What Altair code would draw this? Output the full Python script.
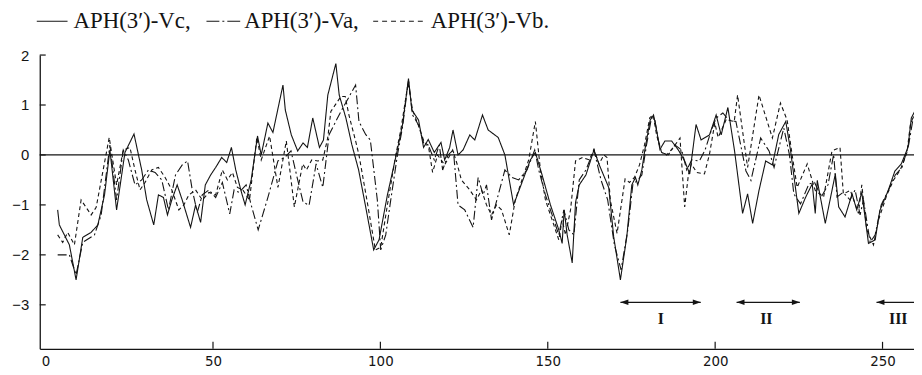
import altair as alt
import pandas as pd

# Hydropathy profiles (residue position, value)
vc = [(3.6,-1.1),(4.1,-1.4),(7.1,-1.8),(9.1,-2.5),(11.1,-1.65),(13.6,-1.55),(15.6,-1.4),(17.6,-0.8),
      (19.2,0.1),(21.2,-1.1),(23.7,0.05),(26.4,0.42),(28.7,-0.3),(30.2,-0.9),(32.3,-1.4),(33.7,-0.8),
      (35.2,-0.85),(36.4,-1.2),(37.7,-0.9),(39.3,-0.6),(40.8,-0.9),(43.3,-1.45),(44.8,-1.0),(46.3,-1.35),
      (47.7,-0.6),(49.3,-0.4),(50.8,-0.25),(52.6,-0.05),(54.1,-0.15),(55.5,0.15),(56.8,-0.3),(58.3,-0.7),
      (59.6,-1.0),(61.4,-0.5),(63.3,0.38),(64.4,0.0),(66.4,0.64),(67.9,0.45),(70.9,1.4),(71.6,0.9),
      (73.4,0.4),(75.3,0.08),(76.9,0.24),(78.2,0.15),(79.8,0.74),(81.8,0.15),(83.0,0.3),(84.3,1.2),
      (86.7,1.83),(87.7,1.2),(89.7,0.74),(91.5,0.2),(93.5,-0.3),(95.5,-1.0),(98.0,-1.9),(99.6,-1.7),
      (102.1,-0.8),(105.0,0.08),(106.6,0.6),(108.4,1.53),(109.4,0.9),(111.4,0.7),(112.9,0.15),(114.3,0.31),
      (116.1,0.05),(118.1,0.25),(119.2,-0.1),(120.7,0.15),(121.7,0.5),(123.2,0.0),(124.7,0.1),(126.7,0.4),
      (128.2,0.3),(130.5,0.8),(132.2,0.5),(135.2,0.35),(137.2,0.0),(139.8,-1.0),(142.3,-0.55),(144.8,-0.1),
      (146.3,0.05),(148.3,-0.4),(150.8,-1.0),(153.3,-1.5),(154.3,-1.77),(154.9,-1.1),(155.8,-1.6),(157.3,-2.16),
      (158.3,-0.95),(159.4,-0.6),(161.4,-0.4),(163.8,0.1),(165.4,-0.2),(168.2,-0.65),(169.7,-1.64),(171.7,-2.5),
      (173.6,-1.64),(175.1,-0.6),(176.2,-0.45),(176.9,-0.6),(178.1,-0.3),(179.0,0.1),(180.6,0.7),(181.6,0.8),
      (182.5,0.5),(183.5,0.11),(185.0,0.28),(187.0,0.28),(189.0,0.1),(190.9,-0.12),(192.4,-0.38),(194.3,0.61),
      (195.8,0.3),(198.3,0.4),(200.3,0.8),(201.8,0.4),(203.8,0.95),(205.8,0.08),(208.2,-1.17),(209.7,-0.78),
      (211.2,-1.37),(213.1,-0.71),(215.1,-0.12),(217.1,-0.2),(219.0,0.41),(221.1,0.67),(222.5,0.1),(225.0,-1.17),
      (227.0,-0.85),(229.0,-0.58),(229.9,-1.17),(230.5,-0.51),(232.9,-1.37),(235.9,-0.38),(236.9,-1.04),
      (238.8,-1.24),(240.9,-0.78),(242.3,-1.1),(243.8,-0.75),(245.8,-1.77),(247.8,-1.7),(249.2,-1.11),
      (251.7,-0.71),(253.7,-0.32),(255.6,-0.18),(257.6,0.15),(258.6,0.74),(259.6,0.87)]

va = [(3.6,-2.0),(7.1,-2.0),(9.1,-2.4),(11.1,-1.75),(14.6,-1.6),(16.6,-1.2),(19.2,0.2),(21.2,-0.9),
      (23.2,0.1),(24.7,-0.1),(26.7,-0.6),(28.7,-0.5),(30.7,-0.3),(32.7,-0.35),(34.7,-0.5),(36.7,-1.1),
      (38.8,-0.4),(40.8,-0.2),(42.4,-0.12),(43.8,-0.7),(45.3,-1.15),(46.8,-0.8),(48.8,-0.7),(50.8,-0.85),
      (52.8,-0.55),(55.0,-1.18),(56.3,-0.7),(57.8,-0.75),(59.9,-0.6),(61.4,-1.0),(63.5,-1.5),(66.4,-0.85),
      (69.4,-0.12),(71.4,-0.05),(73.3,0.08),(75.3,-0.5),(76.9,-0.94),(78.7,-1.01),(80.8,-0.18),(82.8,-0.65),
      (84.7,0.41),(88.2,0.87),(92.6,1.4),(93.6,0.67),(95.6,0.41),(97.0,0.3),(99.1,-0.91),(100.1,-1.9),
      (101.6,-1.6),(103.1,-0.9),(105.1,0.0),(106.6,0.55),(108.4,1.5),(109.6,0.8),(111.4,0.6),(113.1,0.2),
      (114.3,0.2),(116.1,-0.1),(117.6,0.2),(118.6,-0.3),(120.2,0.0),(121.8,0.1),(123.2,-1.0),(125.2,-1.1),
      (127.7,-1.45),(129.2,-0.45),(130.7,-0.8),(131.7,-0.6),(133.2,-1.3),(135.2,-0.8),(137.2,-0.3),(139.3,-0.45),
      (141.3,-0.5),(143.8,-0.3),(146.1,0.1),(147.3,-0.3),(149.3,-0.8),(151.3,-1.2),(153.3,-1.6),(154.8,-1.1),
      (156.3,-1.5),(157.8,-1.6),(159.4,-0.5),(161.4,-0.3),(163.8,0.1),(165.9,-0.5),(167.9,-0.9),(169.9,-1.8),
      (171.9,-2.3),(173.9,-1.5),(175.4,-0.6),(176.9,-0.5),(178.1,-0.4),(179.5,0.2),(181.0,0.75),(182.0,0.7),
      (183.0,0.3),(184.0,0.05),(186.0,0.0),(188.0,0.2),(190.0,0.1),(191.5,-0.3),(193.0,-0.1),(195.3,-0.12),
      (197.0,0.1),(198.8,0.48),(200.3,0.74),(202.3,0.84),(204.1,0.7),(206.2,0.67),(209.2,-0.32),(210.7,-0.51),
      (213.6,0.34),(216.1,0.08),(217.6,-0.25),(220.5,0.54),(222.2,0.0),(223.5,-0.78),(225.5,-0.98),(228.0,-0.58),
      (229.7,-0.55),(231.7,-0.84),(233.7,-0.6),(235.4,0.01),(236.4,-0.84),(238.2,-0.75),(240.3,-0.9),
      (241.8,-0.7),(243.3,-1.2),(244.3,-0.9),(246.3,-1.75),(247.8,-1.6),(249.6,-1.0),(251.8,-0.7),
      (253.8,-0.4),(255.8,-0.25),(257.8,0.2),(259.3,0.8)]

vb = [(3.6,-1.6),(5.1,-1.75),(6.6,-1.55),(8.6,-1.8),(10.6,-0.9),(13.6,-1.2),(15.1,-1.05),(19.0,0.35),
      (21.2,-0.6),(23.2,0.1),(25.2,0.15),(26.7,-0.3),(28.2,-0.7),(29.7,-0.55),(31.7,-0.3),(33.7,-0.25),
      (35.7,-0.45),(37.7,-0.7),(39.8,-1.1),(41.3,-1.0),(42.8,-0.8),(44.8,-0.7),(46.8,-0.9),(48.8,-0.75),
      (50.8,-0.8),(52.8,-0.3),(54.3,-0.5),(55.8,-0.35),(57.3,-0.65),(58.9,-0.7),(60.9,-0.9),(63.1,0.35),
      (64.4,-0.1),(66.9,0.38),(69.4,-0.65),(71.9,0.28),(74.3,-1.04),(76.8,-0.18),(77.9,-0.3),(79.5,-0.1),
      (81.3,-0.12),(82.8,-0.1),(84.3,0.35),(85.2,0.87),(88.2,1.17),(89.5,1.17),(90.6,0.8),(92.6,0.28),
      (93.6,0.0),(96.0,-0.91),(98.5,-1.9),(100.1,-1.85),(102.1,-1.0),(104.6,0.0),(106.1,0.5),(108.3,1.45),
      (109.6,0.9),(111.6,0.55),(113.1,0.25),(114.3,0.2),(115.6,-0.35),(117.1,0.0),(119.2,-0.2),(121.6,0.1),
      (123.0,-0.2),(124.2,-0.5),(126.7,-0.7),(128.7,-0.9),(130.2,-0.7),(131.7,-1.0),(133.2,-1.2),(134.7,-1.0),
      (136.2,-1.1),(138.5,-1.6),(140.3,-0.9),(142.3,-0.5),(144.3,-0.1),(146.3,0.67),(147.8,-0.3),(149.3,-0.9),
      (151.3,-1.3),(153.3,-1.7),(154.3,-1.3),(155.3,-1.6),(156.8,-1.1),(158.3,-0.12),(160.4,-0.05),(162.4,-0.1),
      (163.8,0.11),(165.3,-0.18),(166.8,0.0),(167.7,-0.05),(168.7,-0.91),(170.7,-1.57),(173.1,-0.48),
      (174.4,-0.55),(175.9,-0.45),(177.4,-0.2),(178.9,0.2),(180.5,0.75),(181.5,0.8),(182.5,0.4),(184.0,0.05),
      (185.5,0.0),(187.5,0.15),(189.5,0.34),(190.9,-1.04),(192.0,-0.4),(192.9,-0.18),(194.5,-0.35),
      (196.8,-0.38),(198.3,0.01),(199.9,0.64),(200.9,0.35),(203.3,0.71),(205.7,0.67),(206.7,1.2),(209.7,-0.25),
      (213.1,1.2),(217.1,0.34),(219.5,1.04),(221.5,0.7),(223.0,0.0),(224.5,-0.65),(227.5,-0.18),(229.9,-0.71),
      (232.4,-0.84),(234.9,0.08),(237.3,0.15),(238.3,-0.78),(240.4,-0.71),(242.8,-1.17),(243.8,-0.6),
      (245.3,-1.5),(247.3,-1.8),(248.8,-1.3),(251.3,-0.8),(253.3,-0.5),(255.3,-0.3),(257.3,0.05),(258.3,0.6),
      (259.1,0.75)]

x_ticks = [0, 50, 100, 150, 200, 250]
y_ticks = [2, 1, 0, -1, -2, -3]
region_names = ["I", "II", "III"]
region_start = [171.7, 206.4, 248.2]
region_end = [195.7, 225.3, 259.4]
region_mid = [183.8, 215.3, 254.7]
region_right_head = [True, True, False]
arrow_level = -2.95
label_level = -3.28
legend_labels = ["APH(3\u2032)-Vc,", "APH(3\u2032)-Va,", "APH(3\u2032)-Vb."]

W, H = 881, 296
xs = alt.Scale(domain=[-1.75, 259.4], nice=False, zero=False)
ys = alt.Scale(domain=[-3.88, 2], nice=False, zero=False)
INK = "#141414"
DASH_C, DASH_A, DASH_B = [1, 0], [9, 3, 2, 3], [4, 3]

x_axis = alt.Axis(values=x_ticks, ticks=False, grid=False, domainColor=INK, domainWidth=1.3,
                  labelFont="Liberation Sans Narrow, DejaVu Sans Condensed, Liberation Sans",
                  labelFontSize=15, labelColor=INK, labelPadding=5, labelFlush=False, title=None)
y_axis = alt.Axis(values=y_ticks, ticks=False, grid=False, domainColor=INK, domainWidth=1.3,
                  labelFont="Liberation Sans", labelFontSize=15, labelColor=INK, labelPadding=11,
                  format="d", title=None)


def X(field):
    return alt.X(field, type="quantitative", scale=xs, axis=x_axis)


def Y(field):
    return alt.Y(field, type="quantitative", scale=ys, axis=y_axis)


def series(data, dash):
    df = pd.DataFrame(data, columns=["pos", "val"])
    mk = alt.Chart(df).mark_line(color=INK, strokeWidth=1.1, clip=True, strokeDash=dash)
    return mk.encode(x=X("pos"), y=Y("val"))


line_c = series(vc, DASH_C)
line_a = series(va, DASH_A)
line_b = series(vb, DASH_B)

zero_line = alt.Chart(pd.DataFrame({"z": [0]})).mark_rule(color=INK, strokeWidth=1.2).encode(y=Y("z"))

ytick = alt.Chart(pd.DataFrame({"t": y_ticks})).mark_rule(color=INK, strokeWidth=1.2).encode(
    y=Y("t"), x=alt.value(0), x2=alt.value(6))
xtick = alt.Chart(pd.DataFrame({"t": x_ticks[1:]})).mark_rule(color=INK, strokeWidth=1.2).encode(
    x=X("t"), y=alt.value(H), y2=alt.value(H - 7))

reg_df = pd.DataFrame({"name": region_names, "start": region_start, "end": region_end,
                       "mid": region_mid, "right": region_right_head,
                       "lvl": [arrow_level] * 3, "lab": [label_level] * 3})
shaft = alt.Chart(reg_df).mark_rule(color=INK, strokeWidth=1.3, clip=True).encode(
    x=X("start"), x2="end:Q", y=Y("lvl"))
left_head = alt.Chart(reg_df).mark_point(shape="M0,0L2,-0.7L2,0.7Z", filled=True, color=INK,
                                         size=64, opacity=1).encode(x=X("start"), y=Y("lvl"))
right_head = alt.Chart(reg_df).transform_filter("datum.right").mark_point(
    shape="M0,0L-2,-0.7L-2,0.7Z", filled=True, color=INK, size=64, opacity=1).encode(
    x=X("end"), y=Y("lvl"))
reg_label = alt.Chart(reg_df).mark_text(font="Liberation Serif", fontSize=16, fontWeight="bold",
                                        color=INK).encode(x=X("mid"), y=Y("lab"), text="name:N")

# legend: line samples + labels above the plot
LEG_BASE, LEG_LINE = -27, -34
legend_layers = []
for (x0, x1, xt), dash, lab in zip([(-3, 28, 34), (168, 202, 206), (336, 390, 394)],
                                   [DASH_C, [13, 3, 2, 3], [5, 4]], legend_labels):
    one = pd.DataFrame({"txt": [lab]})
    legend_layers.append(alt.Chart(one).mark_rule(color=INK, strokeWidth=1.1, strokeDash=dash).encode(
        x=alt.value(x0), x2=alt.value(x1), y=alt.value(LEG_LINE)))
    legend_layers.append(alt.Chart(one).mark_text(
        font="Liberation Serif", fontSize=23, color=INK, align="left", baseline="alphabetic").encode(
        x=alt.value(xt), y=alt.value(LEG_BASE), text="txt:N"))

chart = alt.layer(
    zero_line, line_b, line_a, line_c, ytick, xtick, shaft, left_head, right_head, reg_label,
    *legend_layers
).properties(
    width=W, height=H,
    padding={"left": 32, "top": 46, "right": 0, "bottom": 24},
    autosize=alt.AutoSizeParams(type="none"),
    background="white",
).configure_view(stroke=None)

chart.save("out.html", embed_options={"renderer": "svg", "actions": False})
